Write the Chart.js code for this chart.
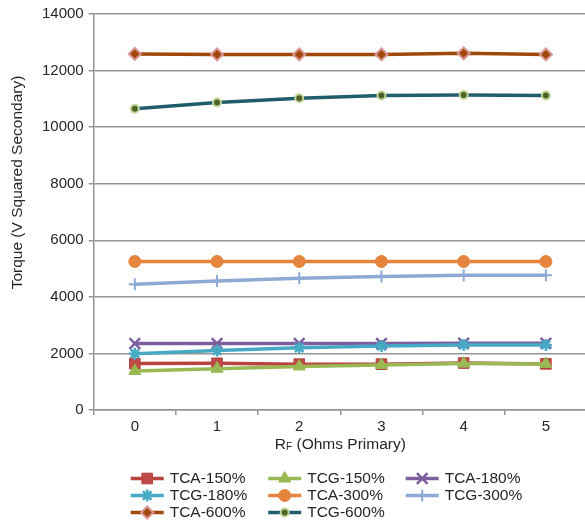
<!DOCTYPE html>
<html>
<head>
<meta charset="utf-8">
<script src="https://cdn.jsdelivr.net/npm/chart.js@4/dist/chart.umd.min.js"></script>
<style>
  html, body { margin: 0; padding: 0; background: #ffffff; overflow: hidden; }
  #wrap { width: 585px; height: 520px; position: relative; overflow: hidden; }
</style>
</head>
<body>
<div id="wrap"><canvas id="torqueChart" width="597" height="520"></canvas></div>
<script>
// Feedback resistance values (ohms, primary side)
const rfOhms = ['0', '1', '2', '3', '4', '5'];

// Torque readings (V squared, secondary) per tap setting
const tca150 = [1640, 1650, 1620, 1620, 1660, 1630];
const tcg150 = [1380, 1460, 1540, 1590, 1640, 1630];
const tca180 = [2350, 2350, 2350, 2350, 2360, 2360];
const tcg180 = [1990, 2100, 2200, 2260, 2300, 2300];
const tca300 = [5250, 5250, 5250, 5250, 5250, 5250];
const tcg300 = [4450, 4560, 4660, 4720, 4760, 4760];
const tca600 = [12590, 12570, 12570, 12570, 12610, 12570];
const tcg600 = [10650, 10870, 11020, 11120, 11140, 11120];

// Value axis range and tick spacing
const torqueMin = 0;
const torqueMax = 14000;
const torqueStep = 2000;

const seriesLabels = ['TCA-150%', 'TCG-150%', 'TCA-180%', 'TCG-180%', 'TCA-300%', 'TCG-300%', 'TCA-600%', 'TCG-600%'];
const seriesValues = [tca150, tcg150, tca180, tcg180, tca300, tcg300, tca600, tcg600];

const FONT_FAMILY = '"Liberation Sans", Arial, Helvetica, sans-serif';
const TEXT_COLOR = '#262626';
const AXIS_COLOR = '#949494';

// Line and marker styling for each series
const seriesStyles = [
  { line: '#b9433f', fill: '#be4b48', border: '#b9433f', shape: 'rect',     radius: 7.5, bw: 1 },
  { line: '#98b954', fill: '#98b954', border: '#98b954', shape: 'triangle', radius: 7,   bw: 1 },
  { line: '#7d5fa0', fill: '#7d5fa0', border: '#7d5fa0', shape: 'crossRot', radius: 7.5, bw: 2.5 },
  { line: '#46aac5', fill: '#46aac5', border: '#46aac5', shape: 'star',     radius: 6,   bw: 2.5 },
  { line: '#e5843c', fill: '#e5843c', border: '#e5843c', shape: 'circle',   radius: 6,   bw: 1 },
  { line: '#8ea9d4', fill: '#8ea9d4', border: '#8ea9d4', shape: 'cross',    radius: 6,   bw: 2 },
  { line: '#a0480c', fill: '#a0480c', border: '#d99694', shape: 'rectRot',  radius: 6,   bw: 2 },
  { line: '#215e6c', fill: '#4f6228', border: '#c3d69b', shape: 'circle',   radius: 4,   bw: 2 }
];

const datasets = seriesLabels.map((label, i) => {
  const s = seriesStyles[i];
  return {
    label: label,
    data: seriesValues[i],
    borderColor: s.line,
    backgroundColor: s.fill,
    borderWidth: 3.5,
    tension: 0,
    pointStyle: s.shape,
    pointRadius: s.radius,
    pointHoverRadius: s.radius,
    pointBackgroundColor: s.fill,
    pointBorderColor: s.border,
    pointBorderWidth: s.bw,
    order: -i
  };
});

function drawMarker(ctx, s, x, y) {
  ctx.save();
  ctx.fillStyle = s.fill;
  ctx.strokeStyle = s.border;
  ctx.lineWidth = s.bw;
  Chart.helpers.drawPoint(ctx, { pointStyle: s.shape, radius: s.radius, rotation: 0, borderWidth: s.bw }, x, y);
  ctx.restore();
}

// Axis titles (with subscript) and a three-column key below the plot
const keyLayout = { columns: 3, colWidth: 137.5, rowHeight: 17, offsetX: 37, offsetY: 68.5, lineLen: 33, textGap: 6 };

const titlesAndKey = {
  id: 'titlesAndKey',
  afterDraw(chart) {
    const ctx = chart.ctx;
    const area = chart.chartArea;
    ctx.save();
    ctx.fillStyle = TEXT_COLOR;
    ctx.textBaseline = 'middle';

    // value axis title
    ctx.save();
    ctx.translate(area.left - 76, area.top + 168.5);
    ctx.rotate(-Math.PI / 2);
    ctx.textAlign = 'center';
    ctx.font = '15.5px ' + FONT_FAMILY;
    ctx.fillText('Torque (V Squared Secondary)', 0, 0);
    ctx.restore();

    // category axis title: R with subscript F
    const mainFont = '15.5px ' + FONT_FAMILY;
    const subFont = '10px ' + FONT_FAMILY;
    ctx.font = mainFont;
    const wR = ctx.measureText('R').width;
    const wRest = ctx.measureText(' (Ohms Primary)').width;
    ctx.font = subFont;
    const wF = ctx.measureText('F').width;
    const total = wR + wF + wRest;
    let tx = (area.left + area.right) / 2 - total / 2;
    const ty = area.bottom + 34.5;
    ctx.textAlign = 'left';
    ctx.font = mainFont;
    ctx.fillText('R', tx, ty);
    tx += wR;
    ctx.font = subFont;
    ctx.fillText('F', tx, ty + 3);
    tx += wF;
    ctx.font = mainFont;
    ctx.fillText(' (Ohms Primary)', tx, ty);

    // key
    ctx.font = '15.5px ' + FONT_FAMILY;
    chart.data.datasets.forEach((ds, i) => {
      const col = i % keyLayout.columns;
      const row = Math.floor(i / keyLayout.columns);
      const x0 = area.left + keyLayout.offsetX + col * keyLayout.colWidth;
      const y0 = area.bottom + keyLayout.offsetY + row * keyLayout.rowHeight;
      const s = seriesStyles[i];
      ctx.save();
      ctx.strokeStyle = s.line;
      ctx.lineWidth = 3.5;
      ctx.beginPath();
      ctx.moveTo(x0, y0);
      ctx.lineTo(x0 + keyLayout.lineLen, y0);
      ctx.stroke();
      ctx.restore();
      drawMarker(ctx, s, x0 + keyLayout.lineLen / 2, y0);
      ctx.fillStyle = TEXT_COLOR;
      ctx.textAlign = 'left';
      ctx.fillText(ds.label, x0 + keyLayout.lineLen + keyLayout.textGap, y0 + 0.5);
    });
    ctx.restore();
  }
};

new Chart(document.getElementById('torqueChart'), {
  type: 'line',
  data: { labels: rfOhms, datasets: datasets },
  options: {
    responsive: false,
    animation: false,
    devicePixelRatio: 1,
    layout: { padding: { left: 37, right: 0, top: 5, bottom: 81 } },
    plugins: {
      legend: { display: false },
      tooltip: { enabled: false }
    },
    scales: {
      x: {
        type: 'category',
        offset: true,
        grid: { offset: true, drawOnChartArea: false, drawTicks: true, tickLength: 5, color: AXIS_COLOR, lineWidth: 1.5 },
        border: { color: AXIS_COLOR, width: 1.5 },
        ticks: { color: TEXT_COLOR, font: { family: FONT_FAMILY, size: 15 }, padding: 3, maxRotation: 0 }
      },
      y: {
        min: torqueMin,
        max: torqueMax,
        grid: { color: AXIS_COLOR, lineWidth: 1.5, tickLength: 5, drawTicks: true },
        border: { color: AXIS_COLOR, width: 1.5 },
        ticks: {
          stepSize: torqueStep,
          color: TEXT_COLOR,
          font: { family: FONT_FAMILY, size: 15 },
          padding: 5,
          callback: (value) => String(value)
        }
      }
    }
  },
  plugins: [titlesAndKey]
});
</script>
</body>
</html>
